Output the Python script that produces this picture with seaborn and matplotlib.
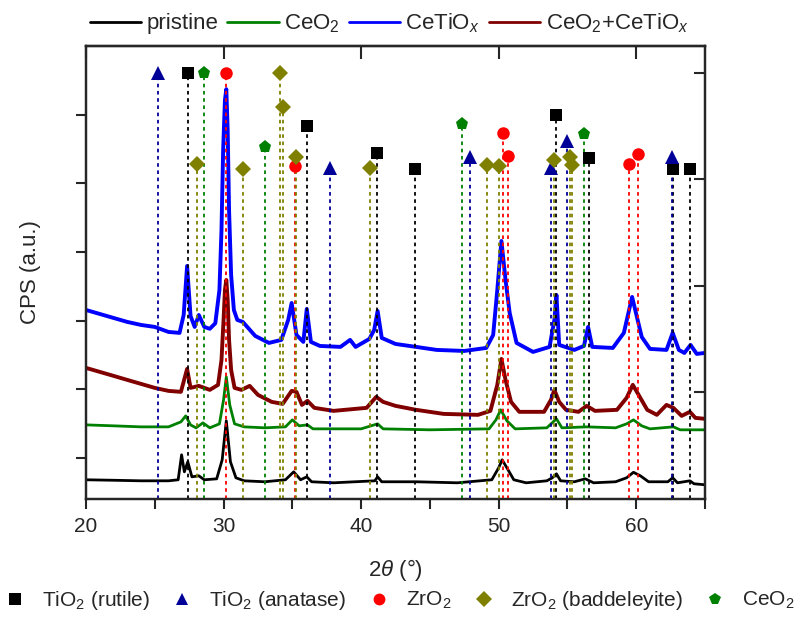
import numpy as np
import pandas as pd
import matplotlib
matplotlib.use("Agg")
import matplotlib.pyplot as plt
import seaborn as sns
from matplotlib.lines import Line2D
from matplotlib.ticker import MultipleLocator, NullFormatter

# ---------------- data ----------------
pristine_x = [20, 22, 24, 26, 26.7, 26.95, 27.15, 27.4, 27.7, 28.2, 28.6, 29.5, 29.9, 30.2, 30.5,
              30.9, 31.5, 33, 34.5, 35.1, 35.6, 36.05, 36.4, 38, 41, 41.2, 41.5, 44, 47, 49.5,
              50.0, 50.25, 50.6, 51.1, 52, 53.5, 53.9, 54.2, 54.5, 55.5, 56.3, 56.9, 58.5, 59.3,
              59.8, 60.3, 60.9, 62.3, 62.65, 63.0, 63.9, 64.2, 65]
pristine_y = [680, 673, 665, 665, 680, 1044, 796, 942, 723, 738, 680, 694, 971, 1539, 942,
              709, 665, 651, 680, 796, 680, 723, 651, 636, 665, 723, 651, 651, 636, 680,
              854, 971, 854, 680, 636, 665, 709, 767, 665, 651, 694, 636, 651, 709,
              789, 738, 651, 651, 709, 636, 665, 622, 607]

ceo2_x = [20, 22, 24, 26, 26.9, 27.25, 27.6, 28.0, 28.5, 29.0, 29.7, 30.0, 30.2, 30.45, 30.8,
          31.5, 33, 34.5, 35.0, 35.5, 36.1, 36.5, 40, 41.2, 41.6, 45, 49.3, 49.8, 50.15, 50.6,
          51.2, 53.5, 54.2, 54.6, 56.4, 58.5, 59.3, 59.8, 60.4, 61, 62.7, 63.2, 65]
ceo2_y = [1480, 1466, 1451, 1451, 1524, 1611, 1480, 1437, 1509, 1437, 1495, 1844, 2179, 1771, 1495,
          1451, 1437, 1451, 1553, 1466, 1480, 1422, 1422, 1495, 1422, 1408, 1422, 1553, 1699, 1539,
          1422, 1437, 1568, 1437, 1451, 1437, 1495, 1553, 1466, 1422, 1451, 1408, 1408]

cetiox_x = [20, 21, 22, 23, 24, 25, 26, 26.8, 27.1, 27.35, 27.6, 27.9, 28.2, 28.6, 29.0, 29.4,
            29.7, 29.85, 29.97, 30.1, 30.2, 30.3, 30.4, 30.55, 30.75, 31.0, 31.4, 32.3, 33.3,
            34.2, 34.7, 34.95, 35.3, 35.8, 36.05, 36.35, 37, 38.5, 39.2, 39.6, 40.6, 40.95,
            41.2, 41.5, 42.5, 44, 45.5, 47.5, 49.1, 49.6, 49.9, 50.2, 50.5, 50.8, 51.3, 52.5,
            53.7, 54.05, 54.2, 54.4, 55.5, 56.2, 56.5, 56.8, 58.3, 59.1, 59.7, 60.4, 61.0,
            62.2, 62.65, 63.1, 63.5, 63.95, 64.4, 65]
cetiox_y = [3154, 3096, 3038, 2980, 2936, 2907, 2834, 2820, 3081, 3795, 3067, 2907, 3081, 2907,
            2880, 2960, 3445, 4319, 5484, 6211, 6371, 5774, 4610, 3664, 3154, 3009, 2980, 2776,
            2674, 2718, 3009, 3256, 2790, 2689, 3169, 2689, 2630, 2616, 2718, 2616, 2732, 2863,
            3140, 2747, 2659, 2616, 2572, 2557, 2601, 2790, 3445, 4159, 3591, 3111, 2674, 2543,
            2616, 3009, 3373, 2645, 2572, 2630, 2907, 2616, 2601, 2820, 3344, 2761, 2587, 2572,
            2820, 2572, 2528, 2645, 2514, 2528]

mix_x = [20, 21, 22, 23, 24, 25, 26, 26.9, 27.35, 27.6, 28.2, 29.0, 29.6, 29.85, 30.0, 30.1,
         30.2, 30.3, 30.4, 30.55, 30.8, 31.3, 31.9, 32.5, 33.5, 34.3, 34.95, 35.3, 35.7, 36.1,
         36.6, 38, 40.4, 41.1, 41.6, 42.5, 44, 46, 48.5, 49.4, 49.9, 50.2, 50.5, 50.9, 51.5,
         53.3, 53.8, 54.05, 54.4, 54.9, 55.8, 56.4, 57, 58.6, 59.3, 59.75, 60.3, 60.8, 61.5,
         62.2, 62.7, 63.3, 63.9, 64.3, 65]
mix_y = [2310, 2252, 2194, 2135, 2077, 2019, 1975, 1961, 2296, 2019, 2048, 1990, 2063, 2426,
         3009, 3445, 3591, 3300, 2718, 2281, 2019, 1990, 2048, 1917, 1815, 1786, 1975, 1961,
         1771, 1830, 1728, 1684, 1728, 1888, 1815, 1757, 1699, 1640, 1626, 1684, 2063, 2441,
         2135, 1815, 1670, 1670, 1844, 1990, 1815, 1699, 1670, 1757, 1684, 1699, 1873, 2063,
         1873, 1699, 1626, 1771, 1728, 1611, 1670, 1582, 1568]

sample_names = ["pristine", "CeO$_2$", "CeTiO$_x$", "CeO$_2$+CeTiO$_x$"]
sample_colors = ["#000000", "#008000", "#0000FF", "#800000"]
sample_widths = [2.0, 2.0, 2.8, 2.8]

# reference-line positions (2theta) and marker heights (right axis)
rutile_x = [27.4, 36.05, 41.15, 43.95, 54.2, 56.55, 62.65, 63.9]
rutile_h = [4.0, 3.50, 3.25, 3.10, 3.60, 3.20, 3.10, 3.10]
anatase_x = [25.25, 37.75, 47.95, 53.8, 55.0, 62.6]
anatase_h = [4.0, 3.11, 3.21, 3.11, 3.36, 3.21]
zro2_x = [30.2, 35.2, 50.3, 50.65, 59.5, 60.1]
zro2_h = [4.0, 3.12, 3.43, 3.22, 3.14, 3.24]
badd_x = [28.1, 31.4, 34.1, 34.3, 35.25, 40.65, 49.15, 50.05, 54.0, 55.2, 55.3]
badd_h = [3.14, 3.10, 4.0, 3.68, 3.21, 3.11, 3.13, 3.12, 3.18, 3.21, 3.13]
ceo2ref_x = [28.55, 33.0, 47.35, 56.2]
ceo2ref_h = [4.0, 3.30, 3.52, 3.42]

phase_labels = ["TiO$_2$ (rutile)", "TiO$_2$ (anatase)", "ZrO$_2$", "ZrO$_2$ (baddeleyite)", "CeO$_2$"]
phase_colors = ["#000000", "#000099", "#FF0000", "#808000", "#008000"]
phase_markers = ["s", "^", "o", "D", "p"]

x_ticks = [20, 30, 40, 50, 60]

# ---------------- style ----------------
sns.set_theme(style="ticks")
plt.rcParams["font.family"] = ["Liberation Sans", "DejaVu Sans"]
plt.rcParams["mathtext.fontset"] = "custom"
plt.rcParams["mathtext.rm"] = "Liberation Sans"
plt.rcParams["mathtext.it"] = "Liberation Sans:italic"

fig = plt.figure(figsize=(8.08, 6.19), dpi=100)
ax = fig.add_axes([86 / 808, 1 - 499 / 619, (705 - 86) / 808, (499 - 46) / 619])

frames = []
for name, xs, ys in zip(sample_names,
                        [pristine_x, ceo2_x, cetiox_x, mix_x],
                        [pristine_y, ceo2_y, cetiox_y, mix_y]):
    frames.append(pd.DataFrame({"two_theta": xs, "cps": ys, "sample": name}))
df = pd.concat(frames, ignore_index=True)

sns.lineplot(data=df, x="two_theta", y="cps", hue="sample", hue_order=sample_names,
             palette=sample_colors, estimator=None, sort=False, linewidth=2.2,
             legend=False, ax=ax)
for ln, w in zip(ax.lines, sample_widths):
    ln.set_linewidth(w)

ax.set_xlim(20, 65)
ax.set_ylim(400, 7000)
ax.set_yticks([1000, 2000, 3000, 4000, 5000, 6000])
ax.yaxis.set_major_formatter(NullFormatter())
ax.xaxis.set_major_locator(MultipleLocator(10))
ax.xaxis.set_minor_locator(MultipleLocator(5))
ax.tick_params(axis="x", which="both", direction="out", length=7, width=1.5,
               labelsize=15, pad=6)
ax.tick_params(axis="y", which="both", direction="out", length=7, width=1.5, left=True)
ax.set_xlabel("2$\\mathit{\\theta}$ (°)", fontsize=16, labelpad=15)
ax.set_ylabel("CPS (a.u.)", fontsize=16, labelpad=22)
for sp in ax.spines.values():
    sp.set_linewidth(1.6)
    sp.set_color("black")

secax = ax.secondary_xaxis("top")
secax.set_xticks(x_ticks)
secax.tick_params(direction="in", length=9, width=1.5, labeltop=False)
secax.spines["top"].set_linewidth(1.6)

# reference markers on a twin axis
ax2 = ax.twinx()
ax2.set_ylim(0, 4.25)
ax2.set_yticks([1, 2, 3, 4])
ax2.yaxis.set_major_formatter(NullFormatter())
ax2.tick_params(axis="y", direction="in", length=8, width=1.5)
for sp in ax2.spines.values():
    sp.set_linewidth(1.6)

phase_x = [rutile_x, anatase_x, zro2_x, badd_x, ceo2ref_x]
phase_h = [rutile_h, anatase_h, zro2_h, badd_h, ceo2ref_h]
for xs, hs, c, m in zip(phase_x, phase_h, phase_colors, phase_markers):
    ax2.vlines(xs, 0, hs, colors=c, linestyles=(0, (2, 2)), linewidth=1.3)
for xs, hs, c, m in zip(phase_x, phase_h, phase_colors, phase_markers):
    ms = 9.5 if m in ("^", "p") else (8 if m == "D" else 9)
    ax2.plot(xs, hs, linestyle="none", marker=m, color=c, markersize=ms, markeredgewidth=0)

# top legend (samples)
line_handles = [Line2D([0], [0], color=c, lw=2) for c in sample_colors]
ax.legend(line_handles, sample_names, loc="lower center", bbox_to_anchor=(0.49, 1.0),
          ncol=4, frameon=False, fontsize=16, handlelength=2.3, handletextpad=0.25,
          columnspacing=0.4, borderaxespad=0.1)

# bottom legend (phases)
mk_handles = [Line2D([0], [0], linestyle="none", marker=m, color=c,
                     markersize=(8 if m == "D" else 8.5), markeredgewidth=0)
              for m, c in zip(phase_markers, phase_colors)]
fig.legend(mk_handles, phase_labels, loc="center left", bbox_to_anchor=(-0.005, 0.03),
           ncol=5, frameon=False, fontsize=15, handlelength=1.0, handletextpad=0.8,
           columnspacing=1.05, borderaxespad=0.0)

fig.savefig("out.png", dpi=100)
